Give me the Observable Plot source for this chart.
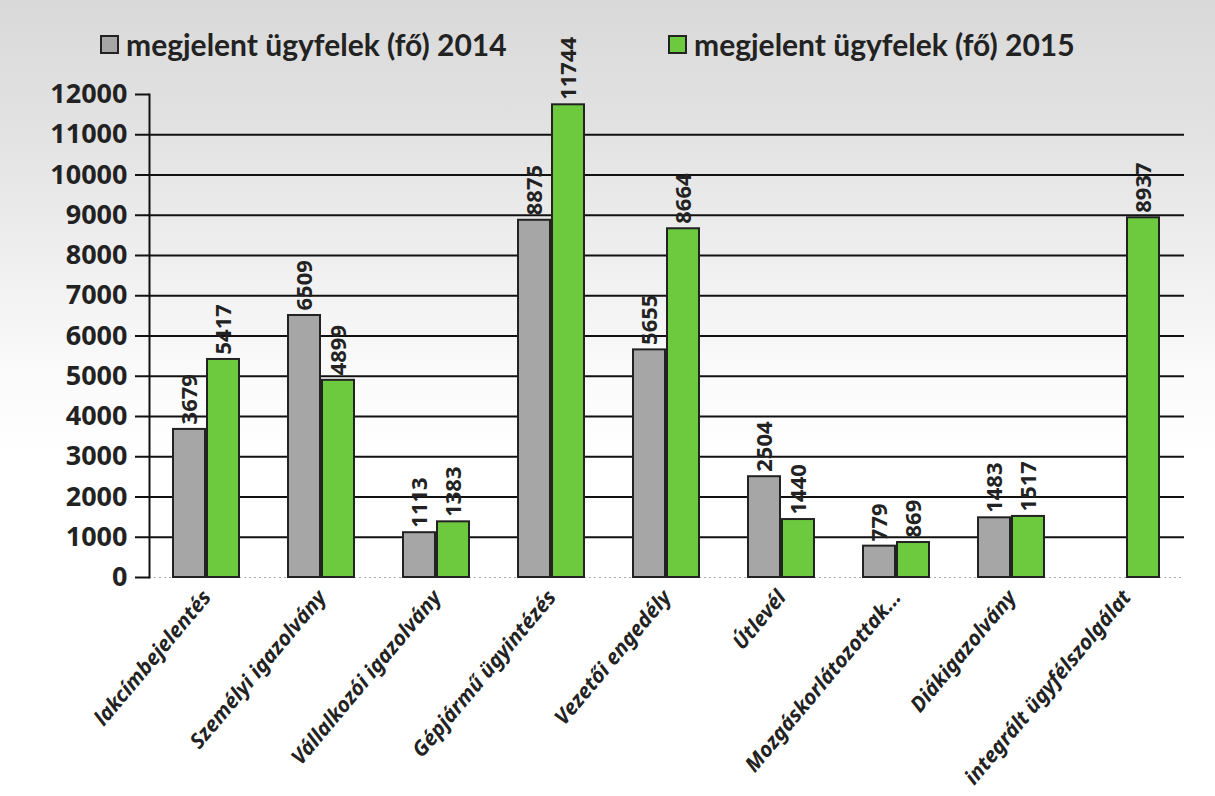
<!DOCTYPE html>
<html><head><meta charset="utf-8">
<script src="https://cdn.jsdelivr.net/npm/d3@7"></script>
<script src="https://cdn.jsdelivr.net/npm/@observablehq/plot@0.6"></script>
<style>
body{margin:0;background:linear-gradient(to bottom,#d9d9d9 0px,#e3e3e3 140px,#efefef 260px,#fbfbfb 380px,#fff 460px);font-family:Lato,"Open Sans",sans-serif;width:1215px;height:796px;overflow:hidden}
#legend{height:75px;position:relative}
.item{position:absolute;top:26px;font-weight:bold;font-size:30px;display:flex;align-items:center;color:#222;white-space:nowrap}
.sw{width:15px;height:15px;border:2px solid #222;margin-right:7px}
#chart svg{overflow:visible;display:block;background:transparent}
g[aria-label="fx-axis tick label"] text{font-weight:bold;font-style:italic}
g[aria-label="y-axis tick label"] text{font-weight:bold}
</style></head>
<body>
<div id="legend"></div>
<div id="chart"></div>
<script>
const categories = ["lakcímbejelentés","Személyi igazolvány","Vállalkozói igazolvány","Gépjármű ügyintézés","Vezetői engedély","Útlevél","Mozgáskorlátozottak...","Diákigazolvány","integrált ügyfélszolgálat"];
const years = ["2014","2015"];
const seriesLabels = ["megjelent ügyfelek (fő) 2014","megjelent ügyfelek (fő) 2015"];
const values2014 = [3679, 6509, 1113, 8875, 5655, 2504, 779, 1483, null];
const values2015 = [5417, 4899, 1383, 11744, 8664, 1440, 869, 1517, 8937];
const yTicks = [0,1000,2000,3000,4000,5000,6000,7000,8000,9000,10000,11000,12000];
const gridTicks = [1000,2000,3000,4000,5000,6000,7000,8000,9000,10000,11000];
const colors = ["#a6a6a6","#6dc93d"];

const rows = [];
categories.forEach((c,i)=>{
  if (values2014[i] != null) rows.push({category:c, year:"2014", value:values2014[i]});
  if (values2015[i] != null) rows.push({category:c, year:"2015", value:values2015[i]});
});

const legend = document.getElementById("legend");
const lefts = [100, 668];
seriesLabels.forEach((s,i)=>{
  const d = document.createElement("div");
  d.className = "item"; d.style.left = lefts[i] + "px";
  d.innerHTML = `<span class="sw" style="background:${colors[i]}"></span><span>${s}</span>`;
  legend.appendChild(d);
});

const chart = Plot.plot({
  width: 1215, height: 721,
  marginLeft: 147, marginRight: 30, marginTop: 19, marginBottom: 219,
  fx: {domain: categories, padding: 0, label: null},
  x: {domain: years, paddingInner: 0.05, paddingOuter: 0.7, axis: null},
  y: {domain: [0, 12000], axis: null},
  color: {domain: years, range: colors},
  marks: [
    Plot.ruleY(gridTicks, {stroke: "#111", strokeWidth: 2}),
    Plot.ruleY([0], {stroke: "#aaa", strokeWidth: 1, strokeDasharray: "2,3"}),
    Plot.barY(rows, {fx: "category", x: "year", y: "value", fill: "year", stroke: "#222", strokeWidth: 2}),
    Plot.text(rows, {fx: "category", x: "year", y: "value", text: d => String(d.value), rotate: -90, textAnchor: "start", dy: -5, fontSize: 22, fontWeight: "bold", fill: "#222"}),
    Plot.axisY({ticks: yTicks, tickSize: 14, tickPadding: 8, fontSize: 27, fontWeight: "bold", tickFormat: d => String(d), stroke: "#111", strokeWidth: 2, color: "#222", label: null}),
    Plot.frame({anchor: "left", facetAnchor: "left", stroke: "#111", strokeWidth: 2}),
    Plot.axisFx({anchor: "bottom", tickRotate: -50, tickSize: 0, tickPadding: 16, fontSize: 21, fontWeight: "bold", fontStyle: "italic", color: "#222", label: null})
  ]
});
document.getElementById("chart").appendChild(chart);
</script>
</body></html>
